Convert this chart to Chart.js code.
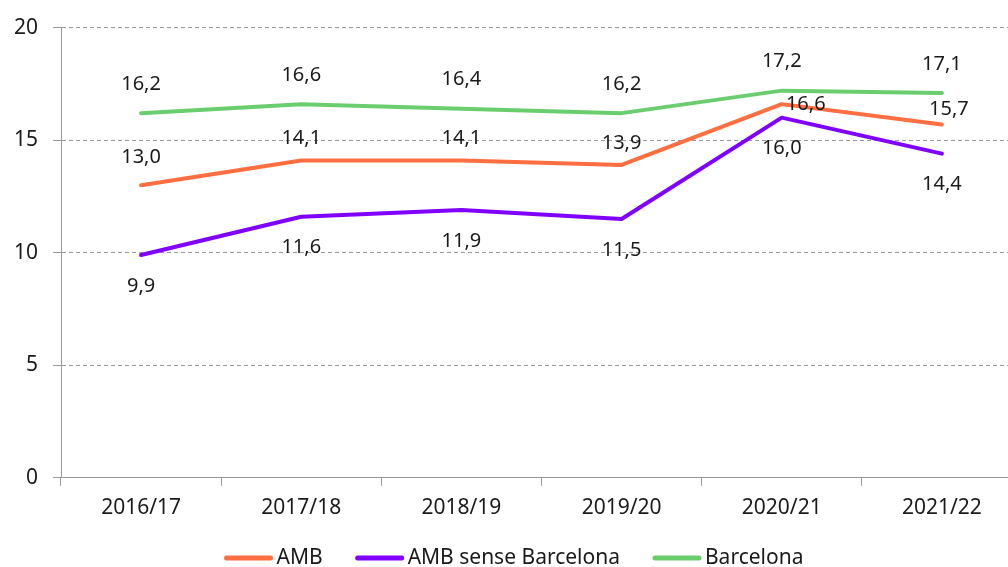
<!DOCTYPE html>
<html>
<head>
<meta charset="utf-8">
<script src="https://cdn.jsdelivr.net/npm/chart.js@4"></script>
<style>
  body { margin: 0; overflow: hidden; background: #fff; }
  #wrap { width: 1022px; height: 567px; }
</style>
</head>
<body>
<div id="wrap"><canvas id="chart"></canvas></div>
<script>
const cursos = ['2016/17', '2017/18', '2018/19', '2019/20', '2020/21', '2021/22'];
const amb = [13.0, 14.1, 14.1, 13.9, 16.6, 15.7];
const ambSenseBcn = [9.9, 11.6, 11.9, 11.5, 16.0, 14.4];
const barcelona = [16.2, 16.6, 16.4, 16.2, 17.2, 17.1];
const yTicks = [0, 5, 10, 15, 20];

const FONT = "'Noto Sans', sans-serif";

// label placement per series (dx, dy from the point), plus a few hand nudges like in the original
const labelPlace = [
    { dy: -22, nudge: { 0: [0, -28], 4: [24, 0], 5: [7, -15] } },
    { dy: 31, nudge: {} },
    { dy: -29, nudge: {} }
];

const valueLabels = {
    id: 'valueLabels',
    afterDatasetsDraw(chart) {
        const ctx = chart.ctx;
        ctx.save();
        ctx.font = '20px ' + FONT;
        ctx.fillStyle = '#1a1a1a';
        ctx.textAlign = 'center';
        ctx.textBaseline = 'middle';
        chart.data.datasets.forEach((ds, i) => {
            const meta = chart.getDatasetMeta(i);
            const place = labelPlace[i];
            meta.data.forEach((pt, j) => {
                const off = place.nudge[j] || [0, place.dy];
                const txt = ds.data[j].toFixed(1).replace('.', ',');
                ctx.fillText(txt, pt.x + off[0], pt.y + off[1]);
            });
        });
        ctx.restore();
    }
};

// legend drawn by hand so the line sample sits close to its text
const lineLegend = {
    id: 'lineLegend',
    afterDraw(chart) {
        const ctx = chart.ctx;
        const lineW = 48, gap = 4, itemGap = 33, y = 558;
        ctx.save();
        ctx.font = '21px ' + FONT;
        const items = chart.data.datasets.map(ds => ({
            label: ds.label,
            color: ds.borderColor,
            w: lineW + gap + ctx.measureText(ds.label).width
        }));
        const total = items.reduce((s, it) => s + it.w, 0) + itemGap * (items.length - 1);
        let x = chart.width / 2 + 3 - total / 2;
        items.forEach(it => {
            ctx.strokeStyle = it.color;
            ctx.lineWidth = 5;
            ctx.lineCap = 'round';
            ctx.beginPath();
            ctx.moveTo(x + 2, y);
            ctx.lineTo(x + lineW - 2, y);
            ctx.stroke();
            ctx.fillStyle = '#1a1a1a';
            ctx.textAlign = 'left';
            ctx.textBaseline = 'middle';
            ctx.fillText(it.label, x + lineW + gap, y);
            x += it.w + itemGap;
        });
        ctx.restore();
    }
};

const ctx = document.getElementById('chart').getContext('2d');

new Chart(ctx, {
    type: 'line',
    data: {
        labels: cursos,
        datasets: [
            { label: 'AMB', data: amb, borderColor: 'rgb(255, 110, 64)' },
            { label: 'AMB sense Barcelona', data: ambSenseBcn, borderColor: 'rgb(128, 0, 255)' },
            { label: 'Barcelona', data: barcelona, borderColor: 'rgb(106, 206, 110)' }
        ]
    },
    options: {
        responsive: true,
        maintainAspectRatio: false,
        animation: false,
        elements: {
            line: { borderWidth: 4, tension: 0, borderCapStyle: 'round', borderJoinStyle: 'round' },
            point: { radius: 0, hoverRadius: 0 }
        },
        layout: { padding: { left: 0, top: 21, right: 0, bottom: 36 } },
        plugins: {
            legend: { display: false },
            tooltip: { enabled: false }
        },
        scales: {
            x: {
                offset: true,
                grid: {
                    offset: true,
                    drawOnChartArea: false,
                    tickLength: 8,
                    color: '#999'
                },
                border: { color: '#999' },
                ticks: {
                    padding: 10,
                    color: '#1a1a1a',
                    font: { family: FONT, size: 21 }
                }
            },
            y: {
                min: 0,
                max: 20,
                afterBuildTicks(scale) {
                    scale.ticks = yTicks.map(v => ({ value: v }));
                },
                afterFit(scale) {
                    scale.width = 61;
                },
                grid: {
                    color: '#999',
                    tickLength: 8
                },
                border: { color: '#999', dash: [4, 3] },
                ticks: {
                    padding: 15,
                    color: '#1a1a1a',
                    font: { family: FONT, size: 21 }
                }
            }
        }
    },
    plugins: [valueLabels, lineLegend]
});
</script>
</body>
</html>
